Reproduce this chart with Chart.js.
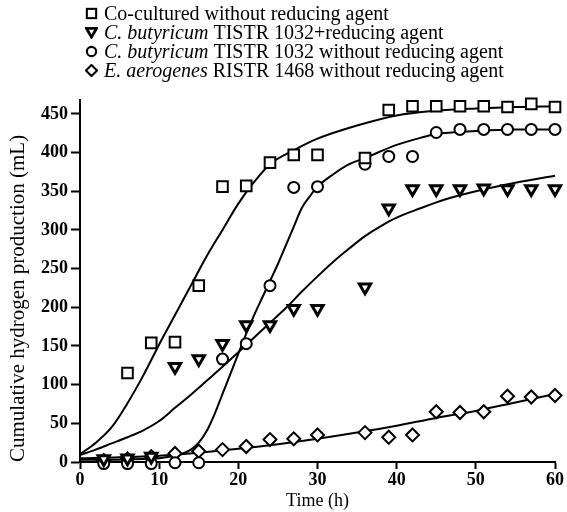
<!DOCTYPE html>
<html lang="en">
<head>
<meta charset="UTF-8" />
<title>Cumulative hydrogen production</title>
<script src="https://cdn.jsdelivr.net/npm/chart.js"></script>
<style>
  body { margin:0; background:#fff; }
  .wrap { position:relative; width:567px; height:512px; }
  #legend {
    position:absolute; left:85px; top:4px;
    font-family:'Liberation Serif', serif; font-size:20px; line-height:19px; color:#000;
  }
  #legend .row { display:flex; align-items:center; height:19px; white-space:nowrap; }
  #legend svg { width:13px; height:13px; margin-right:6px; }
</style>
</head>
<body>
<div class="wrap">
  <canvas id="h2Chart" width="567" height="512"></canvas>
  <div id="legend">
    <div class="row"><svg viewBox="0 0 14 14"><rect x="2" y="2" width="10" height="10" fill="#fff" stroke="#000" stroke-width="2.2"/></svg>Co-cultured without reducing agent</div>
    <div class="row"><svg viewBox="0 0 14 14"><polygon points="1.5,2.5 12.5,2.5 7,12" fill="#fff" stroke="#000" stroke-width="3"/></svg><i>C. butyricum</i>&nbsp;TISTR 1032+reducing agent</div>
    <div class="row"><svg viewBox="0 0 14 14"><circle cx="7" cy="7" r="5" fill="#fff" stroke="#000" stroke-width="2.2"/></svg><i>C. butyricum</i>&nbsp;TISTR 1032 without reducing agent</div>
    <div class="row"><svg viewBox="0 0 14 14"><polygon points="7,1 13,7 7,13 1,7" fill="#fff" stroke="#000" stroke-width="2.2"/></svg><i>E. aerogenes</i>&nbsp;RISTR 1468 without reducing agent</div>
  </div>
</div>
<script>
// measured points (h, mL)
const hours = [0, 3, 6, 9, 12, 15, 18, 21, 24, 27, 30, 36, 39, 42, 45, 48, 51, 54, 57, 60];
const coCultured   = [null, null, 115, 154, 155, 228, 356, 357, 387, 397, 397, 393, 455, 460, 460, 460, 460, 459, 463, 459];
const cbReducing   = [null, 4, 5, 7, 123, 133, 153, 177, 177, 198, 198, 226, 328, 353, 353, 353, 354, 353, 353, 353];
const cbNoReducing = [null, -2, -2, -2, -1, -1, 133, 153, 228, 355, 356, 385, 395, 395, 426, 430, 430, 430, 430, 430];
const eaNoReducing = [null, 2, 4, 7, 11, 14, 16, 20, 29, 30, 35, 38, 32, 35, 65, 64, 65, 85, 84, 86];

// fitted curves
const fitHoursA = [0, 2, 4, 6, 8, 10, 12, 14, 16, 18, 20, 22, 24, 27, 30, 35, 40, 45, 50, 55, 60];
const fitCoCultured = [10, 25, 45, 76, 112, 152, 190, 228, 266, 300, 334, 362, 385, 403, 418, 435, 448, 454, 457, 459, 460];

const fitHoursB = [0, 4, 8, 10, 12, 13, 14, 15, 16, 17, 18, 19, 20, 21, 22, 23, 24, 25, 26, 27, 28, 29, 30, 32, 34, 36, 40, 43, 45, 50, 55, 60];
const fitCbNoReducing = [3, 3, 4, 5, 8, 11, 16, 25, 40, 62, 88, 114, 140, 166, 190, 212, 234, 256, 280, 304, 328, 343, 356, 372, 385, 393, 410, 419, 424, 428, 430, 430];

const fitHoursC = [0, 2, 4, 6, 8, 10, 12, 14, 16, 18, 20, 22, 24, 26, 28, 30, 32, 34, 36, 38, 40, 43, 46, 50, 55, 60];
const fitCbReducing = [9, 16, 24, 32, 41, 53, 70, 87, 105, 123, 142, 161, 180, 199, 220, 240, 259, 276, 292, 305, 316, 328, 339, 350, 361, 370];

const fitHoursD = [0, 5, 10, 15, 20, 25, 30, 35, 40, 45, 50, 55, 60];
const fitEaNoReducing = [5, 6, 8, 12, 17, 23, 30, 38, 47, 57, 66, 77, 88];

const xTicks = [0, 10, 20, 30, 40, 50, 60];
const yTicks = [0, 50, 100, 150, 200, 250, 300, 350, 400, 450];

const pts = (xs, ys) => xs.map((x, i) => ({ x: x, y: ys[i] })).filter(p => p.y !== null);
const serif = "'Liberation Serif', serif";
const tickFont = { family: serif, size: 18, weight: 'bold' };

function marks(values, style, radius, bw, rot) {
  return {
    data: pts(hours, values), pointStyle: style, pointRadius: radius, rotation: rot || 0,
    borderWidth: bw, borderColor: '#000', backgroundColor: '#fff', showLine: false, clip: false
  };
}
function curve(xs, ys) {
  return {
    data: pts(xs, ys), showLine: true, pointRadius: 0, borderColor: '#000', borderWidth: 2,
    cubicInterpolationMode: 'monotone', fill: false, clip: false
  };
}

const chart = new Chart(document.getElementById('h2Chart'), {
  type: 'scatter',
  data: { datasets: [
    marks(coCultured, 'rect', 7.5, 2),
    marks(cbReducing, 'triangle', 6.5, 3, 180),
    marks(cbNoReducing, 'circle', 5.5, 2),
    marks(eaNoReducing, 'rectRot', 6.5, 2),
    curve(fitHoursA, fitCoCultured),
    curve(fitHoursB, fitCbNoReducing),
    curve(fitHoursC, fitCbReducing),
    curve(fitHoursD, fitEaNoReducing)
  ]},
  options: {
    responsive: false, animation: false, devicePixelRatio: 1,
    layout: { padding: { top: 100, right: 12, left: 0, bottom: 0 } },
    plugins: { legend: { display: false }, tooltip: { enabled: false } },
    scales: {
      x: {
        type: 'linear', min: 0, max: 60,
        afterBuildTicks: s => { s.ticks = xTicks.map(v => ({ value: v })); },
        afterFit: s => { s.height = 50; },
        border: { color: '#000', width: 2 },
        grid: { drawOnChartArea: false, tickLength: 7, tickWidth: 2, tickColor: '#000' },
        ticks: { color: '#000', font: tickFont, padding: 1, maxRotation: 0 },
        title: { display: true, text: 'Time (h)', color: '#000', font: { family: serif, size: 18 }, padding: 0 }
      },
      y: {
        type: 'linear', min: 0, max: 468,
        afterBuildTicks: s => { s.ticks = yTicks.map(v => ({ value: v })); },
        afterFit: s => { s.width = 80; },
        border: { color: '#000', width: 2 },
        grid: { drawOnChartArea: false, tickLength: 9, tickWidth: 2, tickColor: '#000' },
        ticks: { color: '#000', font: tickFont, padding: 3 },
        title: { display: true, align: 'start', text: 'Cumulative hydrogen production (mL)', color: '#000', font: { family: serif, size: 21 }, padding: { top: 6, bottom: 0 } }
      }
    }
  }
});
</script>
</body>
</html>
